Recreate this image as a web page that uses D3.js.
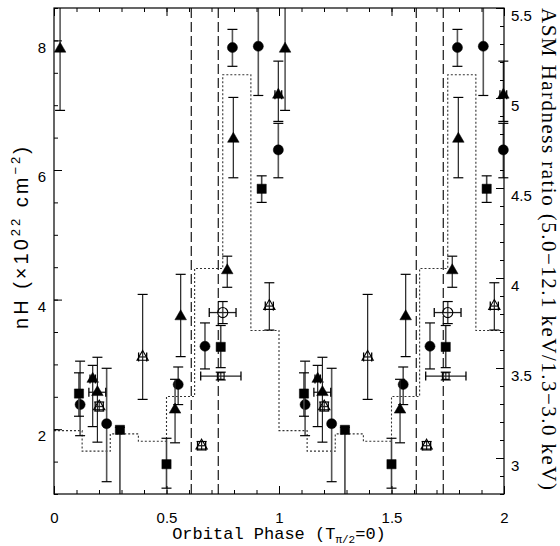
<!DOCTYPE html>
<html><head><meta charset="utf-8">
<script src="https://cdn.jsdelivr.net/npm/d3@7"></script>
<style>body{margin:0;background:#fff}</style>
</head><body>
<svg id="c" width="560" height="546"></svg>
<script>
// ---------- data ----------
const phaseTicks = [0, 0.5, 1, 1.5, 2];
const phaseTickLabels = ["0", "0.5", "1", "1.5", "2"];
const nhTicks = [2, 4, 6, 8];
const nhTickLabels = ["2", "4", "6", "8"];
const hrTicks = [3, 3.5, 4, 4.5, 5, 5.5];
const hrTickLabels = ["3", "3.5", "4", "4.5", "5", "5.5"];
const eclipseEdges = [0.61, 0.73];           // dashed lines (repeated each cycle)
const hrBinStart = [0, 0.125, 0.25, 0.375, 0.5, 0.625, 0.75, 0.875];
const hrValues = [3.152, 3.038, 3.134, 3.093, 3.342, 4.053, 5.129, 3.708];
// [phase, nH, nH_low, nH_high, phase_low, phase_high]
const filledCircles = [
  [0.116, 2.38, 1.90, 3.05], [0.234, 2.085, 1.19, 2.94], [0.552, 2.69, 2.38, 2.96],
  [0.671, 3.28, 2.93, 3.64], [0.793, 7.89, 7.60, 8.17], [0.908, 7.91, 7.15, 8.70],
  [0.997, 6.31, 5.88, 6.72]
];
const filledSquares = [
  [0.111, 2.55, 2.20, 2.87], [0.293, 1.99, 0.50, 2.03], [0.500, 1.46, 1.09, 1.86],
  [0.741, 3.27, 2.95, 3.60], [0.923, 5.71, 5.50, 5.91]
];
const filledTriangles = [
  [0.027, 7.87, 6.92, 8.70], [0.172, 2.775, 2.04, 2.985, 0.160, 0.184],
  [0.193, 2.57, 1.80, 3.11, 0.155, 0.230], [0.538, 2.30, 1.79, 2.77],
  [0.563, 3.74, 3.12, 4.39], [0.770, 4.45, 4.19, 4.67], [0.797, 6.48, 5.88, 7.12],
  [0.997, 7.16, 6.75, 7.68, 0.982, 1.012]
];
const openTriangles = [
  [0.201, 2.35, 2.28, 2.42, 0.183, 0.219], [0.394, 3.115, 2.46, 4.08, 0.376, 0.412],
  [0.656, 1.745, 1.68, 1.81, 0.638, 0.674], [0.957, 3.90, 3.53, 4.26, 0.939, 0.975]
];
const openCircles = [[0.750, 3.80, 3.63, 3.97, 0.690, 0.809]];
const openSquares = [[0.741, 2.82, 2.76, 2.88, 0.652, 0.831]];

// ---------- layout ----------
const L = 54, R = 504, T = 8, B = 494;
const svg = d3.select("#c");
const x = d3.scaleLinear([0, 2], [L, R]);
const yL = d3.scaleLinear([1, 8.5], [B, T]);
const yR = d3.scaleLinear([2.8, 5.5], [B, T]);
const tickFont = "Liberation Sans, Arial, sans-serif";

// hardness ratio step line (dotted)
const hrPts = [];
[0, 1].forEach(k => hrBinStart.forEach((s, i) => hrPts.push([k + s, hrValues[i]])));
hrPts.push([2, hrValues[hrValues.length - 1]]);
svg.append("path")
  .attr("d", d3.line().x(d => x(d[0])).y(d => yR(d[1])).curve(d3.curveStepAfter)(hrPts))
  .attr("fill", "none").attr("stroke", "#333").attr("stroke-width", 1.1)
  .attr("stroke-dasharray", "2,2");

// dashed eclipse lines
[0, 1].forEach(k => eclipseEdges.forEach(e => {
  svg.append("line").attr("x1", x(k + e)).attr("x2", x(k + e))
    .attr("y1", T).attr("y2", B).attr("stroke", "#000").attr("stroke-width", 1.1)
    .attr("stroke-dasharray", "10,4");
}));

// ---------- data points ----------
const g = svg.append("g");
function inY(v) { return v >= 1 && v <= 8.5; }
function clampY(v) { return Math.max(1, Math.min(8.5, v)); }
function drawSeries(data, type, filled, size, barColor, barWidth) {
  [0, 1].forEach(k => data.forEach(d => {
    const px = x(d[0] + k), py = yL(d[1]);
    const lo = yL(clampY(d[2])), hi = yL(clampY(d[3]));
    g.append("line").attr("x1", px).attr("x2", px).attr("y1", lo).attr("y2", hi)
      .attr("stroke", barColor).attr("stroke-width", barWidth);
    if (inY(d[2])) g.append("line").attr("x1", px - 5).attr("x2", px + 5).attr("y1", lo).attr("y2", lo).attr("stroke", "#000").attr("stroke-width", 1.2);
    if (inY(d[3])) g.append("line").attr("x1", px - 5).attr("x2", px + 5).attr("y1", hi).attr("y2", hi).attr("stroke", "#000").attr("stroke-width", 1.2);
    if (d.length > 4) {
      const xl = x(d[4] + k), xh = x(d[5] + k);
      g.append("line").attr("x1", xl).attr("x2", xh).attr("y1", py).attr("y2", py).attr("stroke", "#222").attr("stroke-width", 1.3);
      [xl, xh].forEach(xx => g.append("line").attr("x1", xx).attr("x2", xx).attr("y1", py - 4.5).attr("y2", py + 4.5).attr("stroke", "#000").attr("stroke-width", 1.3));
    }
    g.append("path").attr("d", d3.symbol().type(type).size(size)())
      .attr("transform", `translate(${px},${py})`)
      .attr("fill", filled ? "#000" : "#fff").attr("fill-opacity", filled ? 1 : 0)
      .attr("stroke", "#000").attr("stroke-width", filled ? 0.5 : 1.1);
  }));
}
drawSeries(filledCircles, d3.symbolCircle, true, 80, "#555", 1.6);
drawSeries(filledSquares, d3.symbolSquare, true, 85, "#444", 1.6);
drawSeries(filledTriangles, d3.symbolTriangle, true, 58, "#222", 1.2);
drawSeries(openTriangles, d3.symbolTriangle, false, 55, "#222", 1.2);
drawSeries(openCircles, d3.symbolCircle, false, 80, "#555", 1.6);
drawSeries(openSquares, d3.symbolSquare, false, 45, "#555", 1.6);

// ---------- axes ----------
const minorPhase = d3.range(0, 2.0001, 0.1);
const minorNh = d3.range(1, 8.5001, 0.5);
const minorHr = d3.range(2.8, 5.5001, 0.1);
function styleAxis(sel) {
  sel.select(".domain").remove();
  sel.selectAll("line").attr("stroke", "#000").attr("stroke-width", 1);
  sel.selectAll("text").attr("font-family", tickFont).attr("font-size", 15).attr("fill", "#000");
}
// bottom
svg.append("g").attr("transform", `translate(0,${B})`)
  .call(d3.axisBottom(x).tickValues(minorPhase).tickSize(-4).tickFormat("")).call(styleAxis);
svg.append("g").attr("transform", `translate(0,${B})`)
  .call(d3.axisBottom(x).tickValues(phaseTicks).tickSize(-8).tickPadding(18)
    .tickFormat((d, i) => phaseTickLabels[i])).call(styleAxis);
// top
svg.append("g").attr("transform", `translate(0,${T})`)
  .call(d3.axisTop(x).tickValues(minorPhase).tickSize(-4).tickFormat("")).call(styleAxis);
svg.append("g").attr("transform", `translate(0,${T})`)
  .call(d3.axisTop(x).tickValues(phaseTicks).tickSize(-8).tickFormat("")).call(styleAxis);
// left
svg.append("g").attr("transform", `translate(${L},0)`)
  .call(d3.axisLeft(yL).tickValues(minorNh).tickSize(-4).tickFormat("")).call(styleAxis);
const la = svg.append("g").attr("transform", `translate(${L},0)`)
  .call(d3.axisLeft(yL).tickValues(nhTicks).tickSize(-8).tickPadding(8)
    .tickFormat((d, i) => nhTickLabels[i])).call(styleAxis);
la.selectAll("text").attr("dy", "0.78em");
// right
svg.append("g").attr("transform", `translate(${R},0)`)
  .call(d3.axisRight(yR).tickValues(minorHr).tickSize(-4).tickFormat("")).call(styleAxis);
const ra = svg.append("g").attr("transform", `translate(${R},0)`)
  .call(d3.axisRight(yR).tickValues(hrTicks).tickSize(-8).tickPadding(7)
    .tickFormat((d, i) => hrTickLabels[i])).call(styleAxis);
ra.selectAll("text").attr("dy", "0.8em");

// frame
svg.append("rect").attr("x", L).attr("y", T).attr("width", R - L).attr("height", B - T)
  .attr("fill", "none").attr("stroke", "#000").attr("stroke-width", 1.2);

// ---------- axis titles ----------
const xt = svg.append("text").attr("x", 279).attr("y", 539).attr("text-anchor", "middle")
  .attr("font-family", "Liberation Mono, Courier New, monospace").attr("font-size", 17);
xt.append("tspan").text("Orbital Phase (T");
xt.append("tspan").attr("font-size", 11).attr("dy", 4).text("\u03c0/2");
xt.append("tspan").attr("dy", -4).text("=0)");

const yt = svg.append("text").attr("transform", "translate(28,238) rotate(-90)")
  .attr("text-anchor", "middle").attr("font-family", tickFont).attr("font-size", 20)
  .attr("textLength", 182).attr("lengthAdjust", "spacing");
yt.append("tspan").text("nH (\u00d710");
yt.append("tspan").attr("font-size", 13).attr("dy", -8).text("22");
yt.append("tspan").attr("dy", 8).text(" cm");
yt.append("tspan").attr("font-size", 13).attr("dy", -8).text("\u22122");
yt.append("tspan").attr("dy", 8).text(")");

svg.append("text").attr("transform", "translate(542,249) rotate(90)")
  .attr("text-anchor", "middle").attr("font-family", "Liberation Serif, Times New Roman, serif")
  .attr("font-size", 21).attr("textLength", 482).attr("lengthAdjust", "spacing")
  .text("ASM Hardness ratio (5.0\u221212.1 keV/1.3\u22123.0 keV)");
</script>
</body></html>
